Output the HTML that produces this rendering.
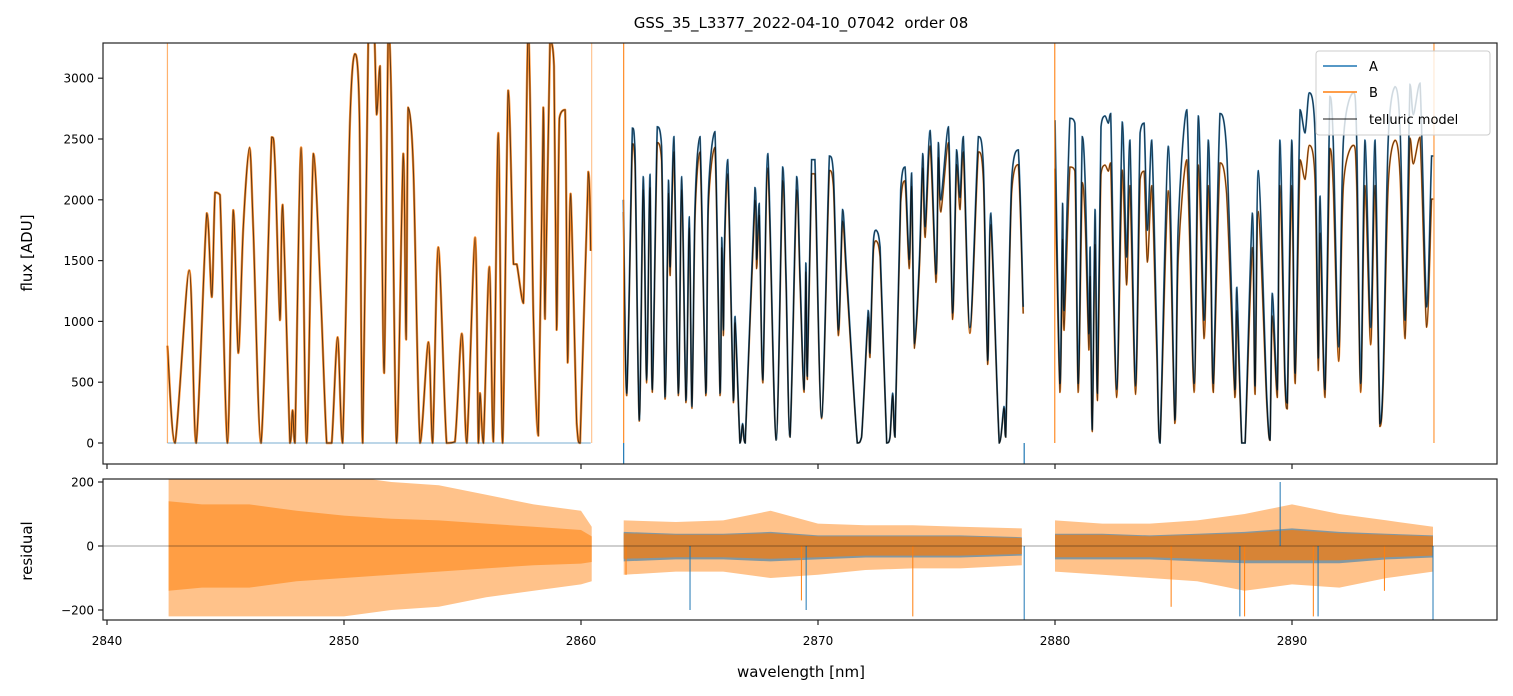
<!DOCTYPE html>
<html><head><meta charset="utf-8"><style>
html,body{margin:0;padding:0;background:#fff;}
svg{display:block;font-family:"DejaVu Sans","Liberation Sans",sans-serif;}
</style></head><body>
<svg id="chart" width="1513" height="696" viewBox="0 0 1513 696" xmlns="http://www.w3.org/2000/svg">
<defs>
<clipPath id="clipTop"><rect x="103" y="43" width="1394" height="421"/></clipPath>
<clipPath id="clipBot"><rect x="103" y="479" width="1394" height="141"/></clipPath>
</defs>
<rect width="1513" height="696" fill="#fff"/>
<text x="801" y="28" font-size="15" text-anchor="middle" fill="#000">GSS_35_L3377_2022-04-10_07042&#160; order 08</text>
<g id="topPlot" clip-path="url(#clipTop)"></g>
<g id="botPlot" clip-path="url(#clipBot)"></g>
<g id="axes"></g>
<text x="0" y="0" transform="translate(32,253) rotate(-90)" font-size="15" text-anchor="middle">flux [ADU]</text>
<text x="0" y="0" transform="translate(32,551) rotate(-90)" font-size="15" text-anchor="middle">residual</text>
<text x="801" y="677" font-size="15" text-anchor="middle">wavelength [nm]</text>
<g>
<rect x="1316" y="51" width="174" height="84" rx="3" fill="#fff" fill-opacity="0.8" stroke="#ccc" stroke-width="1"/>
<g><line x1="1323" y1="66" x2="1357" y2="66" stroke="#1f77b4" stroke-width="1.5"/><text x="1369" y="71" font-size="13">A</text></g>
<g><line x1="1323" y1="92" x2="1357" y2="92" stroke="#ff7f0e" stroke-width="1.5"/><text x="1369" y="97" font-size="13">B</text></g>
<g><line x1="1323" y1="119" x2="1357" y2="119" stroke="#000" stroke-opacity="0.6" stroke-width="1.5"/><text x="1369" y="124" font-size="13">telluric model</text></g>
</g>
</svg>
<script>
const seg1Wl=[2842.55,2842.87,2843.47,2843.76,2844.21,2844.42,2844.56,2844.77,2845.08,2845.33,2845.54,2845.75,2846.01,2846.17,2846.50,2846.95,2847.09,2847.30,2847.41,2847.72,2847.83,2847.93,2848.19,2848.42,2848.71,2849.02,2849.27,2849.48,2849.73,2849.94,2850.25,2850.46,2850.65,2850.79,2851.03,2851.27,2851.38,2851.52,2851.69,2851.87,2852.01,2852.22,2852.50,2852.62,2852.71,2852.93,2853.21,2853.56,2853.74,2853.98,2854.33,2854.68,2854.97,2855.18,2855.53,2855.67,2855.74,2855.88,2856.13,2856.30,2856.51,2856.69,2856.93,2857.15,2857.29,2857.57,2857.78,2857.99,2858.20,2858.41,2858.48,2858.69,2858.86,2858.97,2859.09,2859.33,2859.44,2859.56,2859.82,2859.96,2860.31,2860.41];
const seg1Flux=[800,0,1420,0,1890,1200,2060,2040,0,1915,740,1775,2430,1775,0,2515,2290,1010,1960,0,270,0,2430,0,2380,1200,0,0,870,0,2630,3200,2700,0,3400,3400,2700,3100,575,3400,2700,0,2380,850,2760,2240,0,830,0,1610,0,10,900,0,1690,0,410,0,1450,10,2550,0,2900,1470,1470,1150,3400,1040,60,2760,1020,3300,3100,930,2670,2740,660,2050,160,0,2230,1580];
const seg2Wl=[2861.79,2861.93,2862.17,2862.28,2862.46,2862.63,2862.77,2862.91,2863.01,2863.22,2863.40,2863.55,2863.69,2863.76,2863.92,2864.11,2864.25,2864.43,2864.57,2864.68,2864.81,2865.02,2865.27,2865.37,2865.65,2865.87,2865.94,2866.01,2866.05,2866.19,2866.43,2866.50,2866.71,2866.82,2866.93,2867.34,2867.41,2867.52,2867.67,2867.88,2868.23,2868.51,2868.65,2868.82,2869.10,2869.24,2869.41,2869.49,2869.55,2869.73,2869.87,2870.15,2870.48,2870.65,2870.86,2871.04,2871.21,2871.66,2871.84,2872.12,2872.19,2872.34,2872.45,2872.62,2872.90,2873.04,2873.15,2873.25,2873.49,2873.67,2873.85,2873.95,2874.07,2874.28,2874.42,2874.52,2874.73,2874.98,2875.08,2875.18,2875.50,2875.68,2875.85,2875.99,2876.13,2876.41,2876.77,2876.98,2877.16,2877.29,2877.65,2877.85,2877.92,2878.17,2878.45,2878.66];
const seg2Flux=[2000,410,2590,2410,190,2190,520,2210,440,2600,2440,380,2160,1450,2520,410,2190,350,1860,300,1940,2520,410,2020,2560,410,1690,930,1610,2330,350,1040,0,160,0,2100,1510,1970,520,2380,25,2270,1390,50,2190,1390,440,1480,550,2330,2330,210,2360,2220,930,1920,1390,0,50,1090,740,1670,1750,1610,0,50,410,50,2080,2270,1510,2220,820,1510,2380,1780,2570,1390,2470,2000,2600,1070,2410,2020,2520,950,2520,2270,680,1890,0,300,50,2160,2410,1120];
const seg3Wl=[2880.00,2880.21,2880.32,2880.38,2880.63,2880.84,2880.98,2881.15,2881.27,2881.43,2881.48,2881.57,2881.69,2881.79,2881.94,2882.11,2882.25,2882.35,2882.60,2882.84,2883.02,2883.16,2883.40,2883.59,2883.76,2883.90,2884.08,2884.29,2884.43,2884.78,2885.06,2885.20,2885.56,2885.87,2886.05,2886.29,2886.47,2886.58,2886.68,2886.96,2887.24,2887.59,2887.67,2887.88,2888.02,2888.33,2888.44,2888.58,2888.93,2889.07,2889.17,2889.38,2889.49,2889.70,2889.80,2889.99,2890.13,2890.34,2890.55,2890.73,2890.97,2891.11,2891.18,2891.39,2891.60,2891.74,2891.97,2892.17,2892.59,2892.73,2892.90,2893.08,2893.32,2893.50,2893.71,2893.85,2894.06,2894.35,2894.56,2894.77,2894.98,2895.12,2895.40,2895.68,2895.89,2895.96];
const seg3Flux=[2655,490,1970,1090,2670,2630,490,2520,2160,900,1610,110,1920,410,2600,2690,2630,2710,440,2640,1530,2490,470,2550,2630,1750,2490,900,0,2440,190,1780,2740,490,2690,1010,2490,1580,490,2710,2410,440,1280,0,0,1890,470,2240,410,25,1230,440,2490,575,330,2490,575,2740,2550,2880,2550,700,2030,440,2850,2490,790,2490,2880,2490,490,2490,950,2490,160,575,2490,2930,2580,1010,2950,2700,2960,1120,2360,2360];
const ratioB=[1.0,0.95,0.85];
const hasA=[false,true,true];
const spikeBWl=[2842.55,2860.45,2861.80,2879.99,2895.99];
const spikeBAlpha=[0.6,0.45,0.9,0.9,0.8];
const spikeAWl=[2861.80,2878.70];
const resWl=[[2842.6,2844,2846,2848,2850,2852,2854,2856,2858,2860,2860.45],[2861.8,2864,2866,2868,2870,2872,2874,2876,2878.6],[2880,2882,2884,2886,2888,2890,2892,2894,2895.95]];
const resOuterHi=[[220,220,220,220,220,200,190,160,130,110,60],[80,75,80,110,70,65,65,60,55],[80,70,70,80,100,130,100,80,60]];
const resOuterLo=[[-220,-220,-220,-220,-220,-200,-190,-160,-140,-120,-110],[-90,-80,-80,-100,-90,-75,-70,-70,-60],[-80,-90,-100,-110,-140,-120,-130,-100,-80]];
const resCoreHi=[[140,130,130,110,95,85,80,70,60,50,30],[40,35,35,40,30,30,30,30,25],[35,35,30,35,40,50,40,35,30]];
const resCoreLo=[[-140,-130,-130,-110,-100,-90,-80,-70,-60,-55,-50],[-40,-35,-35,-40,-35,-30,-30,-30,-25],[-35,-35,-35,-40,-45,-45,-45,-35,-30]];
const resSpikeWl=[2861.9,2864.6,2869.3,2869.5,2874.0,2878.7,2884.9,2887.8,2888.0,2889.5,2890.9,2891.1,2893.9,2895.95];
const resSpikeVal=[-90,-200,-170,-200,-220,-230,-190,-220,-220,200,-220,-220,-140,-230];
const xTicks=[2840,2850,2860,2870,2880,2890];
const yTicksTop=[0,500,1000,1500,2000,2500,3000];
const yTicksBot=[-200,0,200];

const NS='http://www.w3.org/2000/svg';
function X(w){return 107+(w-2840)*23.7;}
function YT(f){return 443-f*0.1216;}
function YB(r){return 546-r*0.32;}
function mk(tag,attrs,parent){const e=document.createElementNS(NS,tag);for(const k in attrs)e.setAttribute(k,attrs[k]);parent.appendChild(e);return e;}
const topG=document.getElementById('topPlot'),botG=document.getElementById('botPlot'),ax=document.getElementById('axes');
const segsWl=[seg1Wl,seg2Wl,seg3Wl],segsFlux=[seg1Flux,seg2Flux,seg3Flux];

function clampY(y,a,b){const lo=Math.min(a,b),hi=Math.max(a,b);return Math.max(lo,Math.min(hi,y));}
function smooth(wl,vals,sc){
  const P=wl.map((w,i)=>[X(w),YT(vals[i]*sc)]);
  let d='M'+P[0][0].toFixed(1)+','+P[0][1].toFixed(1);
  for(let i=0;i<P.length-1;i++){
    const p0=P[Math.max(0,i-1)],p1=P[i],p2=P[i+1],p3=P[Math.min(P.length-1,i+2)];
    const t=0.15;
    const c1x=p1[0]+(p2[0]-p0[0])*t,c1y=clampY(p1[1]+(p2[1]-p0[1])*t,p1[1],p2[1]);
    const c2x=p2[0]-(p3[0]-p1[0])*t,c2y=clampY(p2[1]-(p3[1]-p1[1])*t,p1[1],p2[1]);
    d+=' C'+c1x.toFixed(1)+','+c1y.toFixed(1)+' '+c2x.toFixed(1)+','+c2y.toFixed(1)+' '+p2[0].toFixed(1)+','+p2[1].toFixed(1);
  }
  return d;
}
for(let s=0;s<3;s++){
  const wl=segsWl[s],fl=segsFlux[s];
  const b=mk('path',{d:smooth(wl,fl,ratioB[s]),fill:'none',stroke:'#ff7f0e','stroke-opacity':0.85,'stroke-width':s===0?2.4:1.8,'stroke-linejoin':'round'},topG);
  
  
  if(hasA[s]){
    const a=mk('path',{d:smooth(wl,fl,1),fill:'none',stroke:'#1f77b4','stroke-opacity':0.85,'stroke-width':1.8},topG);
    
    
  } else {
    const a=mk('line',{x1:X(wl[0]),x2:X(wl[wl.length-1]),y1:YT(0),y2:YT(0),stroke:'#1f77b4','stroke-opacity':0.6,'stroke-width':1},topG);
    
    
  }
  const m=mk('path',{d:smooth(wl,fl,1),fill:'none',stroke:'#000','stroke-opacity':0.6,'stroke-width':1.1},topG);
  
  
  if(ratioB[s]!==1){
    const m2=mk('path',{d:smooth(wl,fl,ratioB[s]),fill:'none',stroke:'#000','stroke-opacity':0.6,'stroke-width':1.1},topG);
    
    
  }
}
spikeBWl.forEach((w,i)=>{
  const l=mk('line',{x1:X(w),x2:X(w),y1:43,y2:YT(0),stroke:'#ff7f0e','stroke-opacity':spikeBAlpha[i],'stroke-width':1.2},topG);
  
  
});
spikeAWl.forEach(w=>{
  const l=mk('line',{x1:X(w),x2:X(w),y1:YT(0),y2:464,stroke:'#1f77b4','stroke-width':1.2},topG);
  
  
});

function band(wl,hi,lo,color,op,name){
  const p=wl.map((w,i)=>X(w).toFixed(1)+','+YB(hi[i]).toFixed(1)).concat(wl.slice().reverse().map((w,j)=>{const i=wl.length-1-j;return X(w).toFixed(1)+','+YB(lo[i]).toFixed(1);})).join(' ');
  const e=mk('polygon',{points:p,fill:color,'fill-opacity':op},botG);
  
  
}
for(let s=0;s<3;s++){
  band(resWl[s],resOuterHi[s],resOuterLo[s],'#ff9a3c',0.6,'residual-envelope-segment-'+(s+1));
  if(hasA[s]) band(resWl[s],resCoreHi[s].map(v=>v*1.1),resCoreLo[s].map(v=>v*1.2),'#1f77b4',0.55,'residual-a-core-segment-'+(s+1));
  band(resWl[s],resCoreHi[s],resCoreLo[s],hasA[s]?'#e0822a':'#ff9a3c',0.9,'residual-b-core-segment-'+(s+1));
}
resSpikeWl.forEach((w,i)=>{
  const l=mk('line',{x1:X(w),x2:X(w),y1:YB(0),y2:YB(resSpikeVal[i]),stroke:i%2?'#1f77b4':'#ff7f0e','stroke-width':1},botG);
  
  
});
const zl=mk('line',{x1:103,x2:1497,y1:YB(0),y2:YB(0),stroke:'#000','stroke-opacity':0.5,'stroke-width':0.8},botG);



[[43,421],[479,141]].forEach(([y,h],k)=>{
  const r=mk('rect',{x:103,y:y,width:1394,height:h,fill:'none',stroke:'#222','stroke-width':1.2},ax);
  
  
});
xTicks.forEach(t=>{
  const x=X(t);
  mk('line',{x1:x,x2:x,y1:464,y2:469,stroke:'#222','stroke-width':1.2},ax);
  mk('line',{x1:x,x2:x,y1:620,y2:625,stroke:'#222','stroke-width':1.2},ax);
  const tx=mk('text',{x:x,y:645,'font-size':12,'text-anchor':'middle'},ax);
  tx.textContent=t;
  
  
});
yTicksTop.forEach(t=>{
  const y=YT(t);
  mk('line',{x1:98,x2:103,y1:y,y2:y,stroke:'#222','stroke-width':1.2},ax);
  const tx=mk('text',{x:94,y:y+4.5,'font-size':12,'text-anchor':'end'},ax);
  tx.textContent=t;
  
  
});
yTicksBot.forEach(t=>{
  const y=YB(t);
  mk('line',{x1:98,x2:103,y1:y,y2:y,stroke:'#222','stroke-width':1.2},ax);
  const tx=mk('text',{x:94,y:y+4.5,'font-size':12,'text-anchor':'end'},ax);
  tx.textContent=t<0?'\u2212'+Math.abs(t):t;
  
  
});
</script>
</body></html>
